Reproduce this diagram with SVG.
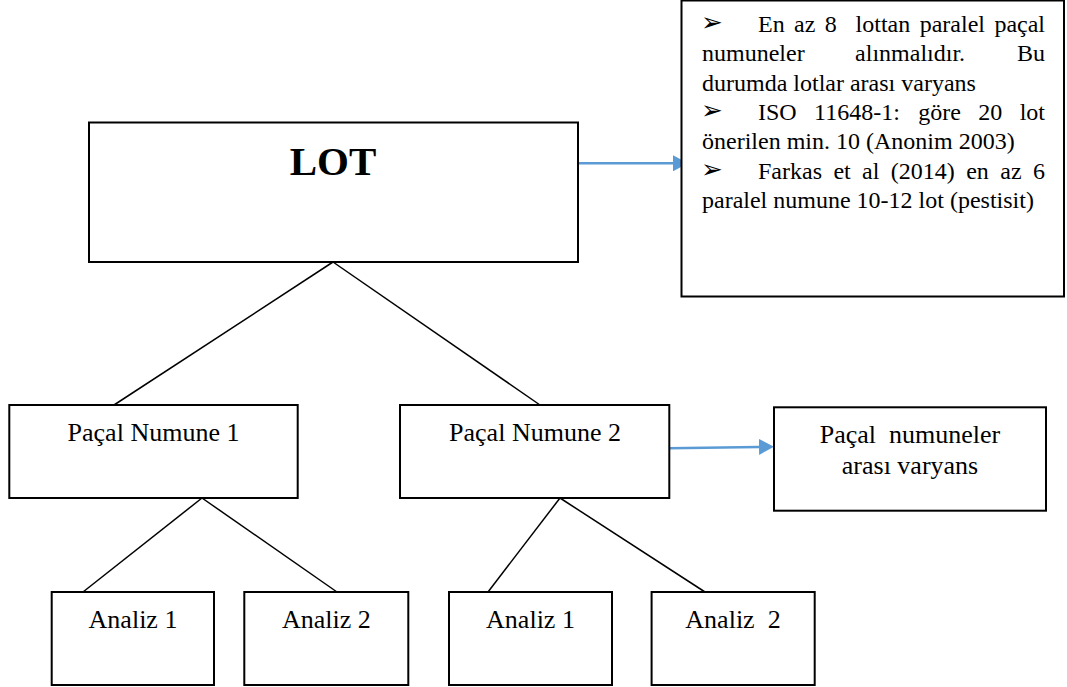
<svg xmlns="http://www.w3.org/2000/svg" width="1067" height="687" viewBox="0 0 1067 687">
<style>
.box{fill:#fff;stroke:#000;stroke-width:2}
.lbl{font-family:"Liberation Serif","Times New Roman",serif;font-size:26px;fill:#000;text-anchor:middle}
.tx{font-family:"Liberation Serif","Times New Roman",serif;font-size:24px;fill:#000}
.bul{font-family:"DejaVu Sans",sans-serif;font-size:26px;fill:#000}
.ln{stroke:#000;stroke-width:1.5;fill:none}
.ar{stroke:#5B9BD5;stroke-width:2.5;fill:none}
</style>
<defs>
<marker id="ah" markerUnits="userSpaceOnUse" markerWidth="16" markerHeight="16" refX="0" refY="8" orient="auto" viewBox="0 0 16 16">
<path d="M0,0 L15,8 L0,16 z" fill="#5B9BD5"/>
</marker>
</defs>
<g id="connectors">
<line class="ln" x1="333" y1="262" x2="114" y2="405"/>
<line class="ln" x1="333" y1="262" x2="540" y2="405"/>
<line class="ln" x1="202" y1="498" x2="83" y2="592"/>
<line class="ln" x1="202" y1="498" x2="337" y2="592"/>
<line class="ln" x1="560" y1="498" x2="488" y2="592"/>
<line class="ln" x1="560" y1="498" x2="705" y2="592"/>
<line class="ar" x1="578" y1="163.3" x2="673" y2="163.3" marker-end="url(#ah)"/>
<line class="ar" x1="669" y1="448.3" x2="759" y2="446.9" marker-end="url(#ah)"/>
</g>
<g id="note">
<rect class="box" x="681.5" y="0.5" width="382.5" height="296"/>
<text class="bul" x="701" y="31">➢</text>
<text class="tx" y="32"><tspan x="758">En</tspan><tspan x="794">az</tspan><tspan x="824.8">8</tspan><tspan x="855.6">lottan</tspan><tspan x="919.7">paralel</tspan><tspan x="994.4">paçal</tspan></text>
<text class="tx" y="61.3"><tspan x="702">numuneler</tspan><tspan x="855.1">alınmalıdır.</tspan><tspan x="1045" text-anchor="end">Bu</tspan></text>
<text class="tx" x="702" y="90.7">durumda lotlar arası varyans</text>
<text class="bul" x="701" y="119">➢</text>
<text class="tx" y="120"><tspan x="758">ISO</tspan><tspan x="814.1">11648-1:</tspan><tspan x="918.2">göre</tspan><tspan x="978.2">20</tspan><tspan x="1045" text-anchor="end">lot</tspan></text>
<text class="tx" x="702" y="149.3">önerilen min. 10 (Anonim 2003)</text>
<text class="bul" x="701" y="177.7">➢</text>
<text class="tx" y="178.7"><tspan x="758">Farkas</tspan><tspan x="833.4">et</tspan><tspan x="862.1">al</tspan><tspan x="890.8">(2014)</tspan><tspan x="966.2">en</tspan><tspan x="1000.3">az</tspan><tspan x="1045" text-anchor="end">6</tspan></text>
<text class="tx" x="702" y="208">paralel numune 10-12 lot (pestisit)</text>
</g>
<g id="lot">
<rect class="box" x="89" y="122.5" width="489" height="139.5"/>
<text x="333" y="174.5" text-anchor="middle" style="font-family:'Liberation Serif','Times New Roman',serif;font-size:41px;font-weight:bold">LOT</text>
</g>
<g id="pacal1">
<rect class="box" x="9.3" y="405" width="288.4" height="93"/>
<text class="lbl" x="153.5" y="440.7">Paçal Numune 1</text>
</g>
<g id="pacal2">
<rect class="box" x="400" y="405" width="269.3" height="93"/>
<text class="lbl" x="535" y="440.5">Paçal Numune 2</text>
</g>
<g id="varyans">
<rect class="box" x="774" y="407.3" width="272" height="103.4"/>
<text class="lbl" x="910" y="443" xml:space="preserve">Paçal  numuneler</text>
<text class="lbl" x="910" y="474">arası varyans</text>
</g>
<g id="analiz1a">
<rect class="box" x="51.7" y="592" width="162.3" height="93"/>
<text class="lbl" x="133" y="627.7">Analiz 1</text>
</g>
<g id="analiz2a">
<rect class="box" x="244.3" y="592" width="164" height="93"/>
<text class="lbl" x="326.3" y="627.7">Analiz 2</text>
</g>
<g id="analiz1b">
<rect class="box" x="449" y="592" width="163" height="93"/>
<text class="lbl" x="530.5" y="627.7">Analiz 1</text>
</g>
<g id="analiz2b">
<rect class="box" x="651.6" y="592" width="163.1" height="93"/>
<text class="lbl" x="733" y="627.7" xml:space="preserve">Analiz  2</text>
</g>
</svg>
